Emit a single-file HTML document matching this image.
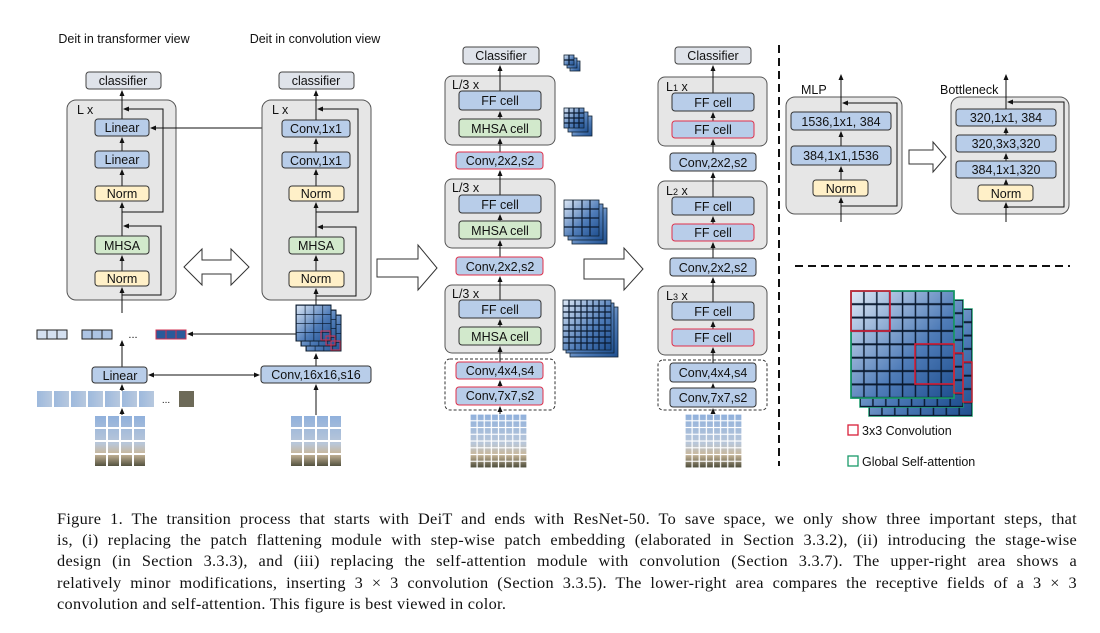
<!DOCTYPE html>
<html><head><meta charset="utf-8"><style>
body{margin:0;background:#fff;width:1100px;height:633px;overflow:hidden;position:relative}
svg{position:absolute;left:0;top:0}
svg text{font-family:"Liberation Sans",sans-serif;fill:#111}
.cap{position:absolute;left:57px;width:1020px;font-family:"Liberation Serif",serif;font-size:16.3px;letter-spacing:0.3px;color:#111;text-align:justify;text-align-last:justify;white-space:nowrap;line-height:20px}
</style></head><body>
<svg width="1100" height="633" viewBox="0 0 1100 633">
<defs>
<marker id="ah" markerWidth="6" markerHeight="6" refX="5" refY="3" orient="auto" markerUnits="userSpaceOnUse"><path d="M0,0.5 L6,3 L0,5.5z" fill="#111"/></marker>
<linearGradient id="cg" x1="0" y1="0" x2="1" y2="1"><stop offset="0" stop-color="#dde8f6"/><stop offset="0.6" stop-color="#4f7cb8"/><stop offset="1" stop-color="#1f4f8f"/></linearGradient>
<linearGradient id="ph" x1="0" y1="0" x2="0" y2="1"><stop offset="0" stop-color="#8fb0dc"/><stop offset="0.55" stop-color="#b9c7d9"/><stop offset="0.75" stop-color="#c9b79a"/><stop offset="1" stop-color="#4a4a38"/></linearGradient>
<linearGradient id="st" x1="0" y1="0" x2="1" y2="0"><stop offset="0" stop-color="#9db9dd"/><stop offset="1" stop-color="#b7c8de"/></linearGradient>
<pattern id="g4" patternUnits="objectBoundingBox" width="0.25" height="0.25"><rect x="0" y="0" width="11" height="11" fill="none" stroke="#0a1a30" stroke-width="1.4"/></pattern>
<pattern id="g8" patternUnits="objectBoundingBox" width="0.125" height="0.125"><rect x="0" y="0" width="13" height="13" fill="none" stroke="#0a1a30" stroke-width="1.6"/></pattern>
<pattern id="w4" patternUnits="objectBoundingBox" width="0.25" height="0.25"><rect x="0" y="0" width="13" height="13" fill="none" stroke="#fff" stroke-width="2"/></pattern>
<pattern id="w8" patternUnits="objectBoundingBox" width="0.125" height="0.125"><rect x="0" y="0" width="7.1" height="6.8" fill="none" stroke="#fff" stroke-width="1.2"/></pattern>
</defs>
<g font-size="12.5" text-anchor="middle">
<text x="124" y="43" font-size="12.5">Deit in transformer view</text>
<text x="315" y="43" font-size="12.5">Deit in convolution view</text>

<!-- COL1 -->
<rect x="86" y="72" width="75" height="17" rx="3" fill="#dfe3ea" stroke="#444"/><text x="123" y="85">classifier</text>
<rect x="67" y="100" width="109" height="200" rx="9" fill="#e6e6e6" stroke="#555"/>
<text x="77" y="114" text-anchor="start">L x</text>
<g stroke="#111" fill="none" stroke-width="1">
<line x1="122" y1="313" x2="122" y2="288" marker-end="url(#ah)"/>
<line x1="122" y1="271" x2="122" y2="256" marker-end="url(#ah)"/>
<line x1="122" y1="236" x2="122" y2="203" marker-end="url(#ah)"/>
<line x1="122" y1="186" x2="122" y2="170" marker-end="url(#ah)"/>
<line x1="122" y1="151" x2="122" y2="138" marker-end="url(#ah)"/>
<line x1="122" y1="119" x2="122" y2="91" marker-end="url(#ah)"/>
<polyline points="122,295 161,295 161,226 124,226" marker-end="url(#ah)"/>
<polyline points="122,212 163,212 163,109 124,109" marker-end="url(#ah)"/>
</g>
<rect x="95" y="119" width="54" height="17" rx="3" fill="#b8cde9" stroke="#333"/><text x="122" y="132">Linear</text>
<rect x="95" y="151" width="54" height="17" rx="3" fill="#b8cde9" stroke="#333"/><text x="122" y="164">Linear</text>
<rect x="95" y="186" width="54" height="15" rx="3" fill="#fff0c8" stroke="#333"/><text x="122" y="198">Norm</text>
<rect x="95" y="236" width="54" height="18" rx="3" fill="#d2e9cc" stroke="#333"/><text x="122" y="250">MHSA</text>
<rect x="95" y="271" width="54" height="15" rx="3" fill="#fff0c8" stroke="#333"/><text x="122" y="283">Norm</text>
<g stroke="#222" stroke-width="1">
<rect x="37" y="330" width="30" height="9" fill="#d4e0f0"/><line x1="47" y1="330" x2="47" y2="339"/><line x1="57" y1="330" x2="57" y2="339"/>
<rect x="82" y="330" width="30" height="9" fill="#adc4e4"/><line x1="92" y1="330" x2="92" y2="339"/><line x1="102" y1="330" x2="102" y2="339"/>
<rect x="156" y="330" width="30" height="9" fill="#2a5a9a" stroke="#d03050"/><line x1="166" y1="330" x2="166" y2="339" stroke="#d03050"/><line x1="176" y1="330" x2="176" y2="339" stroke="#d03050"/>
</g>
<text x="133" y="338" font-size="11">...</text>
<g stroke="#111" fill="none">
<line x1="122" y1="367" x2="122" y2="341" marker-end="url(#ah)"/>
<line x1="122" y1="391" x2="122" y2="385" marker-end="url(#ah)"/>
<line x1="122" y1="415" x2="122" y2="409" marker-end="url(#ah)"/>
<line x1="316" y1="334" x2="188" y2="334" marker-end="url(#ah)"/>
<line x1="206" y1="375" x2="149" y2="375" marker-end="url(#ah)"/>
<line x1="206" y1="375" x2="259" y2="375" marker-end="url(#ah)"/>
<line x1="215" y1="128" x2="151" y2="128" marker-end="url(#ah)"/>
<line x1="215" y1="128" x2="280" y2="128" marker-end="url(#ah)"/>
</g>
<rect x="92" y="367" width="55" height="16" rx="3" fill="#b8cde9" stroke="#333"/><text x="120" y="380">Linear</text>
<g fill="url(#st)">
<rect x="37" y="391" width="15" height="16"/><rect x="54" y="391" width="15" height="16"/><rect x="71" y="391" width="15" height="16"/><rect x="88" y="391" width="15" height="16"/><rect x="105" y="391" width="15" height="16"/><rect x="122" y="391" width="15" height="16"/><rect x="139" y="391" width="15" height="16"/>
</g>
<text x="166" y="403" font-size="10">...</text>
<rect x="179" y="391" width="15" height="16" fill="#6d6a58"/>
<rect x="94" y="415" width="52" height="52" fill="url(#ph)"/><rect x="94" y="415" width="52" height="52" fill="url(#w4)"/>

<path d="M184,267 L202,249 L202,260 L231,260 L231,249 L249,267 L231,285 L231,274 L202,274 L202,285 Z" fill="#fff" stroke="#333"/>

<!-- COL2 -->
<rect x="279" y="72" width="75" height="17" rx="3" fill="#dfe3ea" stroke="#444"/><text x="316" y="85">classifier</text>
<rect x="262" y="100" width="109" height="200" rx="9" fill="#e6e6e6" stroke="#555"/>
<text x="272" y="114" text-anchor="start">L x</text>
<g stroke="#111" fill="none">
<line x1="316" y1="305" x2="316" y2="289" marker-end="url(#ah)"/>
<line x1="316" y1="271" x2="316" y2="256" marker-end="url(#ah)"/>
<line x1="316" y1="237" x2="316" y2="203" marker-end="url(#ah)"/>
<line x1="316" y1="186" x2="316" y2="170" marker-end="url(#ah)"/>
<line x1="316" y1="152" x2="316" y2="139" marker-end="url(#ah)"/>
<line x1="316" y1="120" x2="316" y2="91" marker-end="url(#ah)"/>
<polyline points="316,296 356,296 356,227 318,227" marker-end="url(#ah)"/>
<polyline points="316,212 358,212 358,109 318,109" marker-end="url(#ah)"/>
<line x1="316" y1="415" x2="316" y2="385" marker-end="url(#ah)"/>
<line x1="316" y1="366" x2="316" y2="354" marker-end="url(#ah)"/>
</g>
<rect x="282" y="120" width="68" height="17" rx="3" fill="#b8cde9" stroke="#333"/><text x="316" y="133">Conv,1x1</text>
<rect x="282" y="152" width="68" height="16" rx="3" fill="#b8cde9" stroke="#333"/><text x="316" y="165">Conv,1x1</text>
<rect x="289" y="186" width="55" height="15" rx="3" fill="#fff0c8" stroke="#333"/><text x="316" y="198">Norm</text>
<rect x="289" y="237" width="55" height="17" rx="3" fill="#d2e9cc" stroke="#333"/><text x="316" y="250">MHSA</text>
<rect x="289" y="271" width="55" height="16" rx="3" fill="#fff0c8" stroke="#333"/><text x="316" y="283">Norm</text>
<g>
<rect x="306" y="315" width="35" height="36" fill="url(#cg)" stroke="#123"/><rect x="306" y="315" width="35" height="36" fill="url(#g4)"/>
<rect x="301" y="310" width="35" height="36" fill="url(#cg)" stroke="#123"/><rect x="301" y="310" width="35" height="36" fill="url(#g4)"/>
<rect x="296" y="305" width="35" height="36" fill="url(#cg)" stroke="#123"/><rect x="296" y="305" width="35" height="36" fill="url(#g4)"/>
<rect x="321" y="331" width="9" height="9" fill="none" stroke="#d03050"/><rect x="326" y="336" width="9" height="9" fill="none" stroke="#d03050"/><rect x="331" y="341" width="9" height="9" fill="none" stroke="#d03050"/>
</g>
<rect x="261" y="366" width="110" height="17" rx="3" fill="#b8cde9" stroke="#333"/><text x="316" y="379">Conv,16x16,s16</text>
<rect x="290" y="415" width="52" height="52" fill="url(#ph)"/><rect x="290" y="415" width="52" height="52" fill="url(#w4)"/>

<path d="M377,259 L418,259 L418,245 L437,268 L418,290 L418,277 L377,277 Z" fill="#fff" stroke="#333"/>

<!-- COL3 -->
<rect x="463" y="47" width="76" height="17" rx="3" fill="#dfe3ea" stroke="#444"/><text x="501" y="60">Classifier</text>
<rect x="445" y="76" width="110" height="69" rx="7" fill="#e6e6e6" stroke="#555"/>
<rect x="445" y="179" width="110" height="69" rx="7" fill="#e6e6e6" stroke="#555"/>
<rect x="445" y="285" width="110" height="68" rx="7" fill="#e6e6e6" stroke="#555"/>
<rect x="445" y="359" width="110" height="51" rx="5" fill="none" stroke="#333" stroke-dasharray="3,2"/>
<text x="452" y="89" text-anchor="start">L/3 x</text><text x="452" y="192" text-anchor="start">L/3 x</text><text x="452" y="298" text-anchor="start">L/3 x</text>
<g stroke="#111" fill="none">
<line x1="500" y1="414" x2="500" y2="407" marker-end="url(#ah)"/>
<line x1="500" y1="387" x2="500" y2="381" marker-end="url(#ah)"/>
<line x1="500" y1="362" x2="500" y2="347" marker-end="url(#ah)"/>
<line x1="500" y1="327" x2="500" y2="320" marker-end="url(#ah)"/>
<line x1="500" y1="300" x2="500" y2="277" marker-end="url(#ah)"/>
<line x1="500" y1="257" x2="500" y2="241" marker-end="url(#ah)"/>
<line x1="500" y1="221" x2="500" y2="215" marker-end="url(#ah)"/>
<line x1="500" y1="195" x2="500" y2="171" marker-end="url(#ah)"/>
<line x1="500" y1="152" x2="500" y2="139" marker-end="url(#ah)"/>
<line x1="500" y1="119" x2="500" y2="112" marker-end="url(#ah)"/>
<line x1="500" y1="91" x2="500" y2="66" marker-end="url(#ah)"/>
</g>
<rect x="459" y="91" width="82" height="19" rx="3" fill="#b8cde9" stroke="#333"/><text x="500" y="105">FF cell</text>
<rect x="459" y="119" width="82" height="18" rx="3" fill="#d2e9cc" stroke="#333"/><text x="500" y="133">MHSA cell</text>
<rect x="456" y="152" width="87" height="17" rx="3" fill="#b8cde9" stroke="#e0304a"/><text x="500" y="165">Conv,2x2,s2</text>
<rect x="459" y="195" width="82" height="18" rx="3" fill="#b8cde9" stroke="#333"/><text x="500" y="209">FF cell</text>
<rect x="459" y="221" width="82" height="18" rx="3" fill="#d2e9cc" stroke="#333"/><text x="500" y="235">MHSA cell</text>
<rect x="456" y="257" width="87" height="18" rx="3" fill="#b8cde9" stroke="#e0304a"/><text x="500" y="271">Conv,2x2,s2</text>
<rect x="459" y="300" width="82" height="18" rx="3" fill="#b8cde9" stroke="#333"/><text x="500" y="314">FF cell</text>
<rect x="459" y="327" width="82" height="18" rx="3" fill="#d2e9cc" stroke="#333"/><text x="500" y="341">MHSA cell</text>
<rect x="456" y="362" width="87" height="17" rx="3" fill="#b8cde9" stroke="#e0304a"/><text x="500" y="375">Conv,4x4,s4</text>
<rect x="456" y="387" width="87" height="18" rx="3" fill="#b8cde9" stroke="#e0304a"/><text x="500" y="400">Conv,7x7,s2</text>
<rect x="470" y="414" width="57" height="54" fill="url(#ph)"/><rect x="470" y="414" width="57" height="54" fill="url(#w8)"/>
<g stroke="#123" stroke-width="0.8">
<rect x="570" y="61" width="10" height="10" fill="url(#cg)"/><rect x="567" y="58" width="10" height="10" fill="url(#cg)"/><rect x="564" y="55" width="10" height="10" fill="url(#cg)"/>
<rect x="572" y="116" width="20" height="20" fill="url(#cg)"/><rect x="568" y="112" width="20" height="20" fill="url(#cg)"/><rect x="564" y="108" width="20" height="20" fill="url(#cg)"/>
<rect x="572" y="208" width="35" height="36" fill="url(#cg)"/><rect x="568" y="204" width="35" height="36" fill="url(#cg)"/><rect x="564" y="200" width="35" height="36" fill="url(#cg)"/>
<rect x="570" y="307" width="48" height="50" fill="url(#cg)"/><rect x="566" y="303" width="48" height="50" fill="url(#cg)"/><rect x="563" y="300" width="48" height="50" fill="url(#cg)"/>
</g>
<g fill="none" stroke="#0a1a30" stroke-width="1.2">
<path d="M564,113 h20 M564,118 h20 M564,123 h20 M569,108 v20 M574,108 v20 M579,108 v20"/>
<path d="M564,209 h35 M564,218 h35 M564,227 h35 M573,200 v36 M582,200 v36 M590,200 v36"/>
<path d="M563,306 h48 M563,312 h48 M563,318 h48 M563,325 h48 M563,331 h48 M563,337 h48 M563,343 h48 M569,300 v50 M575,300 v50 M581,300 v50 M587,300 v50 M593,300 v50 M599,300 v50 M605,300 v50"/>
<path d="M564,60 h10 M569,55 v10"/>
</g>

<path d="M584,259 L624,259 L624,248 L643,269 L624,290 L624,279 L584,279 Z" fill="#fff" stroke="#333"/>

<!-- COL4 -->
<rect x="675" y="47" width="76" height="17" rx="3" fill="#dfe3ea" stroke="#444"/><text x="713" y="60">Classifier</text>
<rect x="658" y="77" width="109" height="69" rx="7" fill="#e6e6e6" stroke="#555"/>
<rect x="658" y="181" width="109" height="68" rx="7" fill="#e6e6e6" stroke="#555"/>
<rect x="658" y="286" width="109" height="69" rx="7" fill="#e6e6e6" stroke="#555"/>
<rect x="658" y="360" width="109" height="50" rx="5" fill="none" stroke="#333" stroke-dasharray="3,2"/>
<text x="666" y="91" text-anchor="start">L<tspan font-size="9">1</tspan> x</text>
<text x="666" y="195" text-anchor="start">L<tspan font-size="9">2</tspan> x</text>
<text x="666" y="300" text-anchor="start">L<tspan font-size="9">3</tspan> x</text>
<g stroke="#111" fill="none">
<line x1="713" y1="414" x2="713" y2="409" marker-end="url(#ah)"/>
<line x1="713" y1="388" x2="713" y2="384" marker-end="url(#ah)"/>
<line x1="713" y1="363" x2="713" y2="348" marker-end="url(#ah)"/>
<line x1="713" y1="329" x2="713" y2="322" marker-end="url(#ah)"/>
<line x1="713" y1="302" x2="713" y2="278" marker-end="url(#ah)"/>
<line x1="713" y1="258" x2="713" y2="243" marker-end="url(#ah)"/>
<line x1="713" y1="224" x2="713" y2="217" marker-end="url(#ah)"/>
<line x1="713" y1="197" x2="713" y2="173" marker-end="url(#ah)"/>
<line x1="713" y1="153" x2="713" y2="140" marker-end="url(#ah)"/>
<line x1="713" y1="121" x2="713" y2="113" marker-end="url(#ah)"/>
<line x1="713" y1="93" x2="713" y2="66" marker-end="url(#ah)"/>
</g>
<rect x="672" y="93" width="82" height="18" rx="3" fill="#b8cde9" stroke="#333"/><text x="713" y="107">FF cell</text>
<rect x="672" y="121" width="82" height="17" rx="3" fill="#b8cde9" stroke="#e0304a"/><text x="713" y="134">FF cell</text>
<rect x="670" y="153" width="86" height="18" rx="3" fill="#b8cde9" stroke="#333"/><text x="713" y="167">Conv,2x2,s2</text>
<rect x="672" y="197" width="82" height="18" rx="3" fill="#b8cde9" stroke="#333"/><text x="713" y="211">FF cell</text>
<rect x="672" y="224" width="82" height="17" rx="3" fill="#b8cde9" stroke="#e0304a"/><text x="713" y="237">FF cell</text>
<rect x="670" y="258" width="86" height="18" rx="3" fill="#b8cde9" stroke="#333"/><text x="713" y="272">Conv,2x2,s2</text>
<rect x="672" y="302" width="82" height="18" rx="3" fill="#b8cde9" stroke="#333"/><text x="713" y="316">FF cell</text>
<rect x="672" y="329" width="82" height="17" rx="3" fill="#b8cde9" stroke="#e0304a"/><text x="713" y="342">FF cell</text>
<rect x="670" y="363" width="86" height="19" rx="3" fill="#b8cde9" stroke="#333"/><text x="713" y="377">Conv,4x4,s4</text>
<rect x="670" y="388" width="86" height="19" rx="3" fill="#b8cde9" stroke="#333"/><text x="713" y="402">Conv,7x7,s2</text>
<rect x="685" y="414" width="57" height="54" fill="url(#ph)"/><rect x="685" y="414" width="57" height="54" fill="url(#w8)"/>

<line x1="779" y1="45" x2="779" y2="466" stroke="#111" stroke-width="2" stroke-dasharray="8,5"/>
<line x1="795" y1="266" x2="1070" y2="266" stroke="#111" stroke-width="2" stroke-dasharray="8,5"/>

<text x="801" y="94" text-anchor="start">MLP</text>
<rect x="786" y="97" width="116" height="117" rx="9" fill="#e6e6e6" stroke="#555"/>
<text x="940" y="94" text-anchor="start">Bottleneck</text>
<rect x="951" y="97" width="118" height="117" rx="9" fill="#e6e6e6" stroke="#555"/>
<g stroke="#111" fill="none">
<line x1="841" y1="222" x2="841" y2="198" marker-end="url(#ah)"/>
<line x1="841" y1="180" x2="841" y2="167" marker-end="url(#ah)"/>
<line x1="841" y1="146" x2="841" y2="132" marker-end="url(#ah)"/>
<line x1="841" y1="112" x2="841" y2="75" marker-end="url(#ah)"/>
<polyline points="841,206 897,206 897,103 843,103" marker-end="url(#ah)"/>
<line x1="1006" y1="222" x2="1006" y2="203" marker-end="url(#ah)"/>
<line x1="1006" y1="185" x2="1006" y2="180" marker-end="url(#ah)"/>
<line x1="1006" y1="161" x2="1006" y2="154" marker-end="url(#ah)"/>
<line x1="1006" y1="135" x2="1006" y2="128" marker-end="url(#ah)"/>
<line x1="1006" y1="109" x2="1006" y2="75" marker-end="url(#ah)"/>
<polyline points="1006,207 1064,207 1064,102 1008,102" marker-end="url(#ah)"/>
</g>
<rect x="791" y="112" width="100" height="18" rx="3" fill="#b8cde9" stroke="#333"/><text x="841" y="126">1536,1x1, 384</text>
<rect x="791" y="146" width="100" height="19" rx="3" fill="#b8cde9" stroke="#333"/><text x="841" y="160">384,1x1,1536</text>
<rect x="813" y="180" width="55" height="16" rx="3" fill="#fff0c8" stroke="#333"/><text x="841" y="193">Norm</text>
<path d="M909,150 L933,150 L933,142 L946,157 L933,172 L933,164 L909,164 Z" fill="#fff" stroke="#333"/>
<rect x="956" y="109" width="100" height="17" rx="3" fill="#b8cde9" stroke="#333"/><text x="1006" y="122">320,1x1, 384</text>
<rect x="956" y="135" width="100" height="17" rx="3" fill="#b8cde9" stroke="#333"/><text x="1006" y="148">320,3x3,320</text>
<rect x="956" y="161" width="100" height="17" rx="3" fill="#b8cde9" stroke="#333"/><text x="1006" y="174">384,1x1,320</text>
<rect x="978" y="185" width="55" height="16" rx="3" fill="#fff0c8" stroke="#333"/><text x="1006" y="198">Norm</text>

<rect x="869" y="309" width="103" height="107" fill="url(#cg)" stroke="#1a9a6a" stroke-width="1.5"/><rect x="869" y="309" width="103" height="107" fill="url(#g8)"/>
<rect x="860" y="300" width="103" height="107" fill="url(#cg)" stroke="#1a9a6a" stroke-width="1.5"/><rect x="860" y="300" width="103" height="107" fill="url(#g8)"/>
<rect x="851" y="291" width="103" height="107" fill="url(#cg)" stroke="#1a9a6a" stroke-width="1.5"/><rect x="851" y="291" width="103" height="107" fill="url(#g8)"/>
<rect x="851" y="291" width="103" height="107" fill="none" stroke="#1a9a6a" stroke-width="1.6"/>
<rect x="851" y="291" width="39" height="40" fill="none" stroke="#d8203a" stroke-width="1.6"/>
<rect x="915" y="344" width="39" height="40" fill="none" stroke="#d8203a" stroke-width="1.6"/>
<rect x="954" y="353" width="9" height="40" fill="none" stroke="#d8203a" stroke-width="1.4"/>
<rect x="963" y="362" width="9" height="40" fill="none" stroke="#d8203a" stroke-width="1.4"/>
<rect x="848" y="425" width="10" height="10" fill="none" stroke="#d8203a" stroke-width="1.3"/>
<text x="862" y="435" text-anchor="start" font-size="12.5">3x3 Convolution</text>
<rect x="848" y="456" width="10" height="10" fill="none" stroke="#1a9a6a" stroke-width="1.3"/>
<text x="862" y="466" text-anchor="start" font-size="12.5">Global Self-attention</text>
</g>
</svg>
<div class="cap" style="top:509px">Figure 1. The transition process that starts with DeiT and ends with ResNet-50. To save space, we only show three important steps, that</div>
<div class="cap" style="top:530px">is, (i) replacing the patch flattening module with step-wise patch embedding (elaborated in Section 3.3.2), (ii) introducing the stage-wise</div>
<div class="cap" style="top:551px">design (in Section 3.3.3), and (iii) replacing the self-attention module with convolution (Section 3.3.7). The upper-right area shows a</div>
<div class="cap" style="top:573px">relatively minor modifications, inserting 3 × 3 convolution (Section 3.3.5). The lower-right area compares the receptive fields of a 3 × 3</div>
<div class="cap" style="top:594px;text-align-last:left">convolution and self-attention. This figure is best viewed in color.</div>
</body></html>
